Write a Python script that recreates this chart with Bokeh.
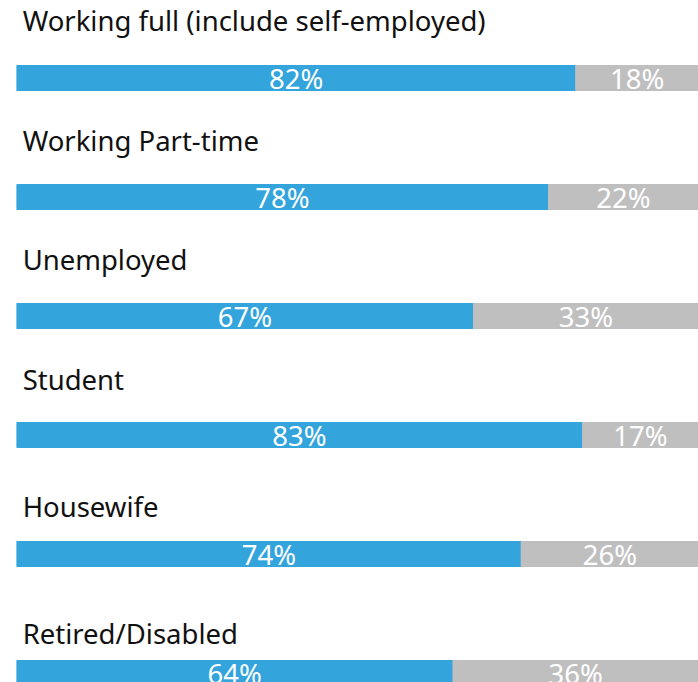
from bokeh.plotting import figure
from bokeh.models import Range1d, ColumnDataSource
from bokeh.core.properties import value
from bokeh.embed import file_html
from bokeh.resources import INLINE

categories = ["Working full (include self-employed)", "Working Part-time", "Unemployed",
              "Student", "Housewife", "Retired/Disabled"]
yes_pct = [82, 78, 67, 83, 74, 64]
no_pct = [18, 22, 33, 17, 26, 36]

BLUE = "#34a4dc"
GRAY = "#bfbfbf"
FONT = "Noto Sans"

# layout (1 unit = one category step of 119 px)
step_px = 119.0
first_center_px = 77.5  # screen y of first bar center
top_px, bottom_px = 0.0, 682.0
y_top = (top_px - first_center_px) / step_px
y_bot = (bottom_px - first_center_px) / step_px
bar_h = 25.0 / step_px
label_gap_px = [57.5, 56.5, 56.5, 55.5, 47.5, 39.5]  # bar centre -> label baseline

n = len(categories)
idx = list(range(n))
total = [a + b for a, b in zip(yes_pct, no_pct)]

src = ColumnDataSource(dict(
    y=idx,
    yes=yes_pct,
    no=no_pct,
    tot=total,
    yes_mid=[a / 2 for a in yes_pct],
    no_mid=[a + b / 2 for a, b in zip(yes_pct, no_pct)],
    yes_lbl=[f"{a}%" for a in yes_pct],
    no_lbl=[f"{b}%" for b in no_pct],
    cat=categories,
    lab_y=[i - label_gap_px[i] / step_px for i in idx],
    lab_x=[0.9] * n,
))

p = figure(width=698, height=682, output_backend="svg", toolbar_location=None,
           x_range=Range1d(0, 100), y_range=Range1d(y_bot, y_top),
           min_border_left=16, min_border_right=0, min_border_top=0, min_border_bottom=0)
p.axis.visible = False
p.grid.visible = False
p.outline_line_color = None
p.background_fill_color = "white"
p.border_fill_color = "white"

p.hbar(y="y", left=0, right="yes", height=bar_h, color=BLUE, source=src)
p.hbar(y="y", left="yes", right="tot", height=bar_h, color=GRAY, source=src)

p.text(x="yes_mid", y="y", text="yes_lbl", source=src, text_color="white",
       text_font=value(FONT), text_font_size="27.5px", text_align="center",
       text_baseline="middle")
p.text(x="no_mid", y="y", text="no_lbl", source=src, text_color="white",
       text_font=value(FONT), text_font_size="27.5px", text_align="center",
       text_baseline="middle")
p.text(x="lab_x", y="lab_y", text="cat", source=src, text_color="#111111",
       text_font=value(FONT), text_font_size="27.5px", text_align="left",
       text_baseline="alphabetic")

open("out.html", "w").write(file_html(p, INLINE))
